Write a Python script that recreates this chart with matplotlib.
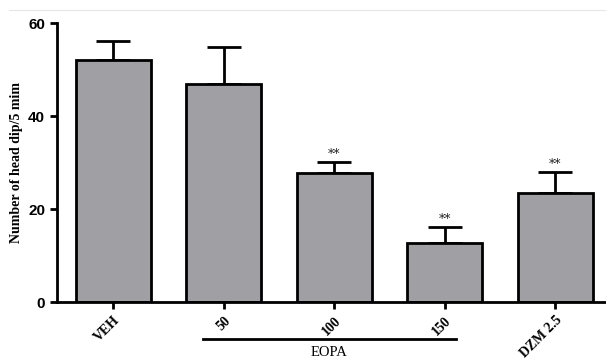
import matplotlib
matplotlib.use('Agg')
import matplotlib.pyplot as plt
import numpy as np

# 数据
groups = ['VEH', '50', '100', '150', 'DZM 2.5']
means = [52.0, 46.8, 27.7, 12.8, 23.5]
sems = [4.2, 8.0, 2.5, 3.3, 4.5]
stars = ['', '', '**', '**', '**']
y_ticks = [0, 20, 40, 60]

fig = plt.figure(figsize=(6.06, 3.6), dpi=100)
ax = fig.add_axes([0.094, 0.161, 0.906, 0.775])

x = np.arange(len(groups))
ax.bar(x, means, width=0.68, color='#a0a0a4', edgecolor='black', linewidth=2.0, zorder=2)
ax.errorbar(x, means, yerr=[np.zeros(len(sems)), sems], fmt='none', ecolor='black',
            elinewidth=2.0, capsize=12, capthick=2.0, zorder=1)

for xi, m, s, st in zip(x, means, sems, stars):
    if st:
        ax.text(xi, m + s + 0.2, st, ha='center', va='bottom', fontsize=9,
                family='DejaVu Serif', color='#222222')

ax.set_xlim(-0.51, 4.46)
ax.set_ylim(0, 60)
ax.set_yticks(y_ticks)
ax.set_yticklabels([str(v) for v in y_ticks], fontsize=11, fontweight='bold',
                   family='Liberation Sans')
ax.set_xticks(x)
ax.set_xticklabels(groups, rotation=45, ha='right', va='top', fontsize=10,
                   fontweight='bold', family='Liberation Serif',
                   rotation_mode='anchor')
ax.set_ylabel('Number of head dip/5 mim', fontsize=10, fontweight='bold',
              family='Liberation Serif', labelpad=4)

for side in ['top', 'right']:
    ax.spines[side].set_visible(False)
ax.spines['left'].set_linewidth(2.0)
ax.spines['bottom'].set_linewidth(2.0)
ax.tick_params(axis='both', width=2.0, length=5, direction='out')

# EOPA 分组线
ax.plot([0.815, 3.1], [-0.133, -0.133], transform=ax.get_xaxis_transform(),
        color='black', linewidth=2.0, clip_on=False)
ax.text(1.95, -0.18, 'EOPA', transform=ax.get_xaxis_transform(), ha='center',
        va='center', fontsize=10.5, family='Liberation Serif')

fig.add_artist(plt.Line2D([0.015, 1.0], [0.972, 0.972], color='#e6e6e6', linewidth=0.8))

fig.savefig('out.png', dpi=100)
